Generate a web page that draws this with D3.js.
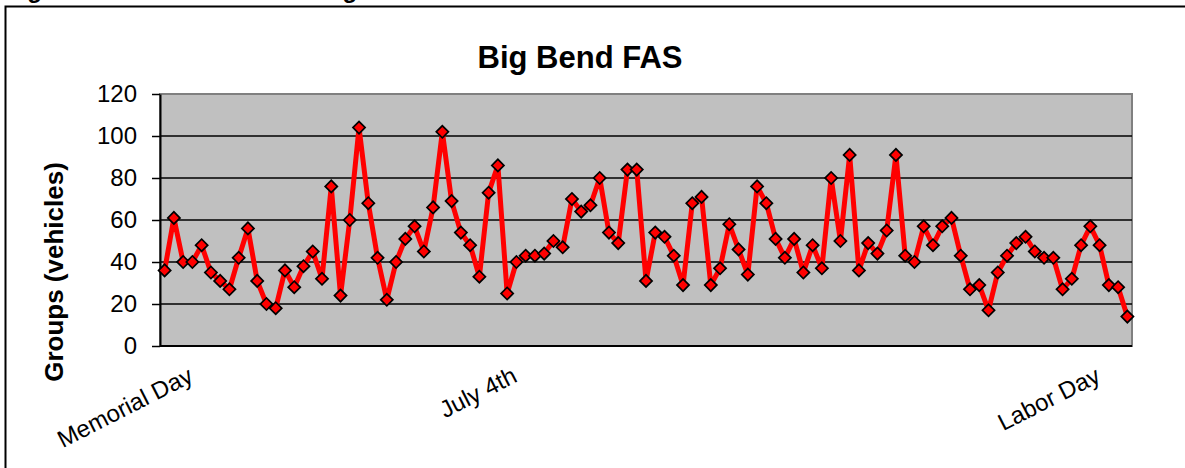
<!DOCTYPE html>
<html>
<head>
<meta charset="utf-8">
<script src="https://cdn.jsdelivr.net/npm/d3@7"></script>
<style>
  html, body { margin: 0; padding: 0; background: #fff; }
  svg { display: block; }
  text { font-family: "Liberation Sans", Arial, sans-serif; }
</style>
</head>
<body>
<svg id="chart" width="1185" height="468"></svg>
<script>
// ---- data ----
const groups = [
  36,61,40,40,48,35,31,27,42,56,31,20,18,36,28,38,45,32,76,24,60,104,68,42,22,40,51,
  57,45,66,102,69,54,48,33,73,86,25,40,43,43,44,50,47,70,64,67,80,54,49,84,84,31,54,
  52,43,29,68,71,29,37,58,46,34,76,68,51,42,51,35,48,37,80,50,91,36,49,44,55,91,43,
  40,57,48,57,61,43,27,29,17,35,43,49,52,45,42,42,27,32,48,57,48,29,28,14
];
const holidayLabels = ["Memorial Day", "July 4th", "Labor Day"];
const holidayIndex = [0, 35, 98];
const yTicks = [0, 20, 40, 60, 80, 100, 120];
const chartTitle = "Big Bend FAS";
const yTitle = "Groups (vehicles)";
const caption = "Figure 4.  Total Visitation to Big Bend FAS";

// ---- layout ----
const svg = d3.select("#chart");
const plot = { left: 160, right: 1132, top: 94, bottom: 346 };

const x = d3.scaleBand()
  .domain(groups.map((d, i) => i))
  .range([plot.left, plot.right]);
const y = d3.scaleLinear().domain([0, 120]).range([plot.bottom, plot.top]);

// clipped caption at the very top (only descenders visible, as in the source)
svg.append("text")
  .attr("x", 6).attr("y", -2.5)
  .attr("font-size", 24).attr("font-weight", "bold")
  .attr("fill", "#000")
  .text(caption);

// outer frame (extends past the right/bottom edge)
svg.append("path")
  .attr("d", "M5.5,470 V6.5 H1190")
  .attr("fill", "none").attr("stroke", "#000").attr("stroke-width", 2);

// title
svg.append("text")
  .attr("x", 580).attr("y", 68)
  .attr("text-anchor", "middle")
  .attr("font-size", 31).attr("font-weight", "bold")
  .text(chartTitle);

// plot background
svg.append("rect")
  .attr("x", plot.left).attr("y", plot.top)
  .attr("width", plot.right - plot.left).attr("height", plot.bottom - plot.top)
  .attr("fill", "#c0c0c0")
  .attr("stroke", "#808080").attr("stroke-width", 2);

// gridlines
svg.append("g")
  .selectAll("line")
  .data(yTicks.filter(t => t > 0 && t < 120))
  .join("line")
  .attr("x1", plot.left).attr("x2", plot.right)
  .attr("y1", d => y(d)).attr("y2", d => y(d))
  .attr("stroke", "#000").attr("stroke-width", 1.3);

// y axis
const yAxis = svg.append("g")
  .attr("transform", `translate(${plot.left},0)`)
  .call(d3.axisLeft(y).tickValues(yTicks).tickSize(8).tickPadding(15).tickSizeOuter(0));
yAxis.select(".domain").attr("stroke", "#000").attr("stroke-width", 2);
yAxis.selectAll(".tick line").attr("stroke", "#000").attr("stroke-width", 1.5);
yAxis.selectAll(".tick text")
  .attr("font-size", 24).attr("fill", "#000")
  .attr("font-family", "'Liberation Sans', Arial, sans-serif");

// x axis line
svg.append("line")
  .attr("x1", plot.left).attr("x2", plot.right)
  .attr("y1", plot.bottom).attr("y2", plot.bottom)
  .attr("stroke", "#000").attr("stroke-width", 2);

// x labels (rotated)
svg.append("g")
  .selectAll("text")
  .data(holidayLabels)
  .join("text")
  .attr("transform", (d, i) => `translate(${x(holidayIndex[i]) + x.bandwidth() / 2 + 30},381) rotate(-27)`)
  .attr("text-anchor", "end")
  .attr("font-size", 24)
  .attr("fill", "#000")
  .text(d => d);

// y title
svg.append("text")
  .attr("transform", "translate(63,272) rotate(-90)")
  .attr("text-anchor", "middle")
  .attr("font-size", 26).attr("font-weight", "bold")
  .text(yTitle);

// line
const line = d3.line()
  .x((d, i) => x(i) + x.bandwidth() / 2)
  .y(d => y(d));
svg.append("path")
  .datum(groups)
  .attr("d", line)
  .attr("fill", "none")
  .attr("stroke", "#ff0000")
  .attr("stroke-width", 5)
  .attr("stroke-linejoin", "round");

// diamond markers
const diamond = d3.symbol().type(d3.symbolSquare).size(74);
svg.append("g")
  .selectAll("path")
  .data(groups)
  .join("path")
  .attr("d", diamond)
  .attr("transform", (d, i) => `translate(${x(i) + x.bandwidth() / 2},${y(d)}) rotate(45)`)
  .attr("fill", "#ff0000")
  .attr("stroke", "#000")
  .attr("stroke-width", 1.7);
</script>
</body>
</html>
